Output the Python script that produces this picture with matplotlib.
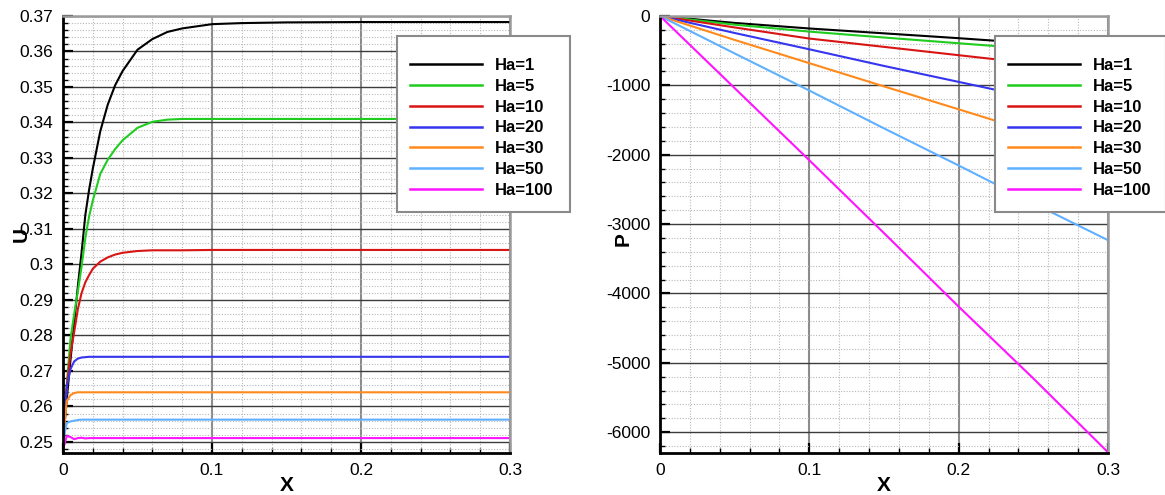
import matplotlib
matplotlib.use("Agg")
import matplotlib.pyplot as plt
from matplotlib.patches import Rectangle
from matplotlib.ticker import MultipleLocator, FuncFormatter

plt.rcParams['font.family'] = ['Liberation Sans', 'DejaVu Sans']

# Hartmann numbers and line colours
labels = ["Ha=1", "Ha=5", "Ha=10", "Ha=20", "Ha=30", "Ha=50", "Ha=100"]
colors = ["#000000", "#1fcc1f", "#d81414", "#3535f0", "#ff8a1c", "#5fb0ff", "#ff14ff"]

# axial velocity U along X
x_u = [0, 0.0025, 0.005, 0.0075, 0.01, 0.0125, 0.015, 0.0175, 0.02, 0.025, 0.03,
       0.035, 0.04, 0.05, 0.06, 0.07, 0.08, 0.1, 0.12, 0.15, 0.2, 0.3]
u_ha1 = [0.25, 0.262, 0.273, 0.2835, 0.294, 0.3035, 0.314, 0.321, 0.327, 0.3375, 0.345,
         0.3505, 0.3545, 0.3605, 0.3635, 0.3655, 0.3665, 0.3677, 0.368, 0.3682, 0.3683, 0.3683]
u_ha5 = [0.25, 0.266, 0.279, 0.286, 0.2925, 0.2995, 0.3075, 0.3135, 0.318, 0.3255, 0.3295,
         0.3325, 0.335, 0.3385, 0.3402, 0.3408, 0.341, 0.341, 0.341, 0.341, 0.341, 0.341]
u_ha10 = [0.25, 0.2657, 0.2748, 0.281, 0.2875, 0.292, 0.295, 0.297, 0.2988, 0.3008, 0.302,
          0.3028, 0.3033, 0.3038, 0.304, 0.304, 0.304, 0.3041, 0.3041, 0.3041, 0.3041, 0.3041]
u_ha20 = [0.25, 0.2655, 0.2705, 0.2727, 0.2735, 0.2738, 0.2739, 0.274, 0.274, 0.274, 0.274,
          0.274, 0.274, 0.274, 0.274, 0.274, 0.274, 0.274, 0.274, 0.274, 0.274, 0.274]
u_ha30 = [0.25, 0.2615, 0.2632, 0.2638, 0.264, 0.264, 0.264, 0.264, 0.264, 0.264, 0.264,
          0.264, 0.264, 0.264, 0.264, 0.264, 0.264, 0.264, 0.264, 0.264, 0.264, 0.264]
u_ha50 = [0.25, 0.2553, 0.2558, 0.256, 0.2562, 0.2563, 0.2563, 0.2563, 0.2563, 0.2563, 0.2563,
          0.2563, 0.2563, 0.2563, 0.2563, 0.2563, 0.2563, 0.2563, 0.2563, 0.2563, 0.2563, 0.2563]
u_ha100 = [0.2478, 0.2517, 0.2514, 0.2508, 0.2511, 0.2512, 0.251, 0.2511, 0.2511, 0.2511, 0.2511,
           0.2511, 0.2511, 0.2511, 0.2511, 0.2511, 0.2511, 0.2511, 0.2511, 0.2511, 0.2511, 0.2511]

# pressure P along X
x_p = [0, 0.05, 0.1, 0.15, 0.2, 0.25, 0.3]
p_ha1 = [0, -100, -180, -250, -320, -395, -470]
p_ha5 = [0, -125, -225, -310, -393, -475, -560]
p_ha10 = [0, -165, -325, -445, -565, -685, -810]
p_ha20 = [0, -245, -480, -720, -950, -1180, -1410]
p_ha30 = [0, -345, -680, -1015, -1345, -1680, -2010]
p_ha50 = [0, -540, -1075, -1620, -2155, -2700, -3232]
p_ha100 = [0, -1040, -2080, -3130, -4190, -5225, -6290]

u_series = [u_ha1, u_ha5, u_ha10, u_ha20, u_ha30, u_ha50, u_ha100]
p_series = [p_ha1, p_ha5, p_ha10, p_ha20, p_ha30, p_ha50, p_ha100]

fmt = FuncFormatter(lambda v, pos: f"{v:g}")

W, H = 1165, 495


def style_axes(ax, ymajor, yminor):
    ax.xaxis.set_major_locator(MultipleLocator(0.1))
    ax.xaxis.set_minor_locator(MultipleLocator(0.02))
    ax.yaxis.set_major_locator(MultipleLocator(ymajor))
    ax.yaxis.set_minor_locator(MultipleLocator(yminor))
    ax.xaxis.set_major_formatter(fmt)
    ax.yaxis.set_major_formatter(fmt)
    ax.grid(which='minor', color='#b8b8b8', linestyle=(0, (1, 1.5)), linewidth=0.8)
    ax.grid(which='major', axis='y', color='#3c3c3c', linewidth=1.0)
    ax.grid(which='major', axis='x', color='#8c8c8c', linewidth=1.5)
    ax.set_axisbelow(True)
    ax.tick_params(which='major', direction='in', length=7, width=1.6,
                   labelsize=12.5, pad=7, top=False, right=False)
    ax.tick_params(which='minor', direction='in', length=3.5, width=1.0,
                   top=False, right=False)
    for s in ('left', 'bottom'):
        ax.spines[s].set_linewidth(2.0)
        ax.spines[s].set_color('black')
    for s in ('top', 'right'):
        ax.spines[s].set_linewidth(1.8)
        ax.spines[s].set_color('#9a9a9a')
    ax.set_xlabel("X", fontsize=15, fontweight='bold')
    ax.xaxis.set_label_coords(0.5, -0.052)


def add_legend(ax, box_left, box_right):
    # white box with grey border, then the legend entries on top of it
    box = Rectangle((box_left / W, 1 - 212 / H), (box_right - box_left) / W, 176 / H,
                    transform=ax.figure.transFigure, facecolor='white',
                    edgecolor='#8a8a8a', linewidth=1.5, clip_on=False, zorder=4.5)
    ax.add_patch(box)
    leg = ax.legend(loc='upper left', bbox_to_anchor=((box_left + 13) / W, 1 - 58 / H),
                    bbox_transform=ax.figure.transFigure, borderaxespad=0,
                    prop={'weight': 'bold', 'size': 12}, handlelength=4.3,
                    handletextpad=0.8, labelspacing=0.35, borderpad=0,
                    frameon=False)
    leg.set_zorder(5)
    for ln in leg.get_lines():
        ln.set_linewidth(1.8)


fig = plt.figure(figsize=(W / 100, H / 100), dpi=100)
ax1 = fig.add_axes([63 / W, 42 / H, 447 / W, 437 / H])
ax2 = fig.add_axes([660 / W, 42 / H, 448 / W, 437 / H])

for y, c, lab in zip(u_series, colors, labels):
    ax1.plot(x_u, y, color=c, lw=1.5, label=lab)
ax1.set_xlim(0, 0.3)
ax1.set_ylim(0.2469, 0.37)
style_axes(ax1, 0.01, 0.002)
ax1.set_ylabel("U", fontsize=15, fontweight='bold')
ax1.yaxis.set_label_coords(-0.072, 0.5)
add_legend(ax1, 397, 570)

for y, c, lab in zip(p_series, colors, labels):
    ax2.plot(x_p, y, color=c, lw=1.5, label=lab)
ax2.set_xlim(0, 0.3)
ax2.set_ylim(-6300, 0)
style_axes(ax2, 1000, 200)
ax2.set_ylabel("P", fontsize=15, fontweight='bold')
ax2.yaxis.set_label_coords(-0.06, 0.49)
add_legend(ax2, 995, 1166)

fig.savefig("out.png", dpi=100)
